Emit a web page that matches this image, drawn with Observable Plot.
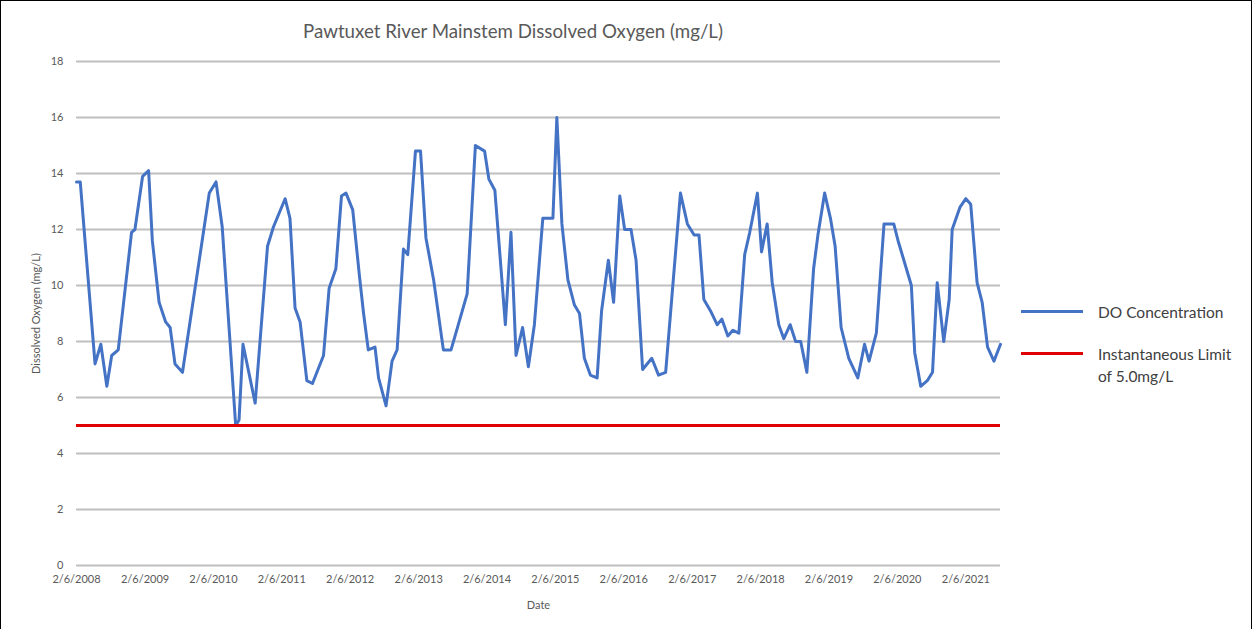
<!DOCTYPE html>
<html>
<head>
<meta charset="utf-8">
<script src="https://cdn.jsdelivr.net/npm/d3@7"></script>
<script src="https://cdn.jsdelivr.net/npm/@observablehq/plot@0.6"></script>
<style>
  html, body { margin: 0; padding: 0; background: #fff; }
  #wrap { position: relative; width: 1257px; height: 629px; overflow: hidden; font-family: Lato, "Open Sans", sans-serif; }
  #frame { position: absolute; left: 0; top: 0; width: 1252px; height: 640px; border: 1px solid #000; box-sizing: border-box; pointer-events: none; }
  #title { position: absolute; left: 0; width: 1026px; top: 20px; text-align: center; font-size: 18.7px; color: #595959; }
  #chart { position: absolute; left: 0; top: 0; }
  .leg { position: absolute; left: 1021px; font-size: 15.5px; color: #404040; line-height: 22px; }
  .leg .sw { position: absolute; left: 0; width: 62px; height: 3px; }
  .leg .tx { position: absolute; left: 77px; white-space: nowrap; }
</style>
</head>
<body>
<div id="wrap">
  <div id="title"></div>
  <div id="chart"></div>
  <div id="legend"></div>
  <div id="frame"></div>
</div>
<script>
const titleText = "Pawtuxet River Mainstem Dissolved Oxygen (mg/L)";
const yLabel = "Dissolved Oxygen (mg/L)";
const xLabel = "Date";
const seriesNames = ["DO Concentration", "Instantaneous Limit of 5.0mg/L"];

const sampleDates = [
  "2008-02-06","2008-02-26","2008-05-15","2008-06-15","2008-07-17","2008-08-12","2008-09-16","2008-11-26","2008-12-14",
  "2009-01-24","2009-02-25","2009-03-17","2009-04-22","2009-05-27","2009-06-20","2009-07-16","2009-08-25",
  "2010-01-15","2010-02-20","2010-03-25","2010-06-05","2010-06-23","2010-07-14","2010-09-17","2010-11-22","2010-12-24",
  "2011-02-24","2011-03-22","2011-04-18","2011-05-15","2011-06-20","2011-07-20","2011-09-17","2011-10-17","2011-11-22","2011-12-22",
  "2012-01-15","2012-02-20","2012-03-26","2012-04-18","2012-05-13","2012-06-18","2012-07-07","2012-08-16","2012-09-17","2012-10-14","2012-11-17","2012-12-10",
  "2013-01-20","2013-02-16","2013-03-17","2013-04-27","2013-06-18","2013-07-29","2013-10-23","2013-12-06",
  "2014-01-24","2014-02-16","2014-03-20","2014-04-16","2014-05-15","2014-06-14","2014-07-11","2014-08-15","2014-09-15","2014-10-17","2014-12-01",
  "2015-01-24","2015-02-14","2015-03-13","2015-04-14","2015-05-19","2015-06-15","2015-07-11","2015-08-12","2015-09-17","2015-10-11","2015-11-16","2015-12-14",
  "2016-01-16","2016-02-11","2016-03-16","2016-04-12","2016-05-17","2016-07-05","2016-08-10","2016-09-17","2016-12-05",
  "2017-01-11","2017-02-16","2017-03-14","2017-04-09","2017-05-14","2017-06-19","2017-07-14","2017-08-15","2017-09-11","2017-10-13","2017-11-13","2017-12-10",
  "2018-01-20","2018-02-11","2018-03-13","2018-04-09","2018-05-14","2018-06-10","2018-07-14","2018-08-12","2018-09-08","2018-10-11","2018-11-16","2018-12-09",
  "2019-01-14","2019-02-14","2019-03-11","2019-04-12","2019-05-23","2019-07-10","2019-08-15","2019-09-08","2019-10-17","2019-11-27",
  "2020-01-18","2020-02-10","2020-04-21","2020-05-09","2020-06-10","2020-07-15","2020-08-12","2020-09-06","2020-10-11","2020-11-09","2020-11-25",
  "2021-01-06","2021-02-06","2021-03-04","2021-04-07","2021-05-04","2021-06-02","2021-07-06","2021-08-10"
];
const doValues = [
  13.7,13.7,7.2,7.9,6.4,7.5,7.7,11.9,12.0,
  13.9,14.1,11.6,9.4,8.7,8.5,7.2,6.9,
  13.3,13.7,12.1,5.0,5.2,7.9,5.8,11.4,12.1,
  13.1,12.4,9.2,8.7,6.6,6.5,7.5,9.9,10.6,13.2,
  13.3,12.7,10.4,9.0,7.7,7.8,6.7,5.7,7.3,7.7,11.3,11.1,
  14.8,14.8,11.7,10.2,7.7,7.7,9.7,15.0,
  14.8,13.8,13.4,11.1,8.6,11.9,7.5,8.5,7.1,8.6,12.4,
  12.4,16.0,12.2,10.2,9.3,9.0,7.4,6.8,6.7,9.1,10.9,9.4,
  13.2,12.0,12.0,10.9,7.0,7.4,6.8,6.9,13.3,
  12.2,11.8,11.8,9.5,9.1,8.6,8.8,8.2,8.4,8.3,11.1,11.9,
  13.3,11.2,12.2,10.1,8.6,8.1,8.6,8.0,8.0,6.9,10.6,11.8,
  13.3,12.4,11.4,8.5,7.4,6.7,7.9,7.3,8.3,12.2,
  12.2,11.6,10.0,7.6,6.4,6.6,6.9,10.1,8.0,9.5,12.0,
  12.8,13.1,12.9,10.1,9.4,7.8,7.3,7.9
];
const limitValue = 5.0;
const yTicks = [0, 2, 4, 6, 8, 10, 12, 14, 16, 18];
const xTickDates = ["2008-02-06","2009-02-06","2010-02-06","2011-02-06","2012-02-06","2013-02-06","2014-02-06",
  "2015-02-06","2016-02-06","2017-02-06","2018-02-06","2019-02-06","2020-02-06","2021-02-06"];
const colors = ["#4472C4", "#E00000"];

const parse = d3.utcParse("%Y-%m-%d");
const data = sampleDates.map((d, i) => ({date: parse(d), value: doValues[i]}));
const ticks = xTickDates.map(parse);

const chart = Plot.plot({
  width: 1257,
  height: 629,
  marginLeft: 76,
  marginRight: 257,
  marginTop: 61,
  marginBottom: 64,
  style: {fontFamily: "Lato, 'Open Sans', sans-serif", fontSize: "11px", color: "#595959", background: "transparent", overflow: "visible"},
  x: {type: "utc", domain: [data[0].date, data[data.length - 1].date]},
  y: {domain: [0, 18]},
  marks: [
    Plot.gridY(yTicks, {stroke: "#bfbfbf", strokeOpacity: 1, strokeWidth: 1.8}),
    Plot.axisY(yTicks, {tickSize: 0, tickPadding: 13, label: yLabel, labelAnchor: "center", labelOffset: 44, labelArrow: "none", fontSize: 11}),
    Plot.axisX(ticks, {tickSize: 0, tickPadding: 10, tickFormat: d3.utcFormat("%-m/%-d/%Y"), label: xLabel, labelAnchor: "center", labelOffset: 43, labelArrow: "none", fontSize: 11}),
    Plot.line(data, {x: "date", y: "value", stroke: colors[0], strokeWidth: 3, strokeLinejoin: "round"}),
    Plot.ruleY([limitValue], {stroke: colors[1], strokeWidth: 3})
  ]
});
document.getElementById("chart").appendChild(chart);
document.getElementById("title").textContent = titleText;

const legend = document.getElementById("legend");
const legendItems = [
  {lines: [seriesNames[0]], color: colors[0], top: 301},
  {lines: ["Instantaneous Limit", "of 5.0mg/L"], color: colors[1], top: 343}
];
legendItems.forEach(item => {
  const el = document.createElement("div");
  el.className = "leg";
  el.style.top = item.top + "px";
  const sw = document.createElement("div");
  sw.className = "sw";
  sw.style.top = "9px";
  sw.style.background = item.color;
  const tx = document.createElement("div");
  tx.className = "tx";
  tx.innerHTML = item.lines.join("<br>");
  el.appendChild(sw);
  el.appendChild(tx);
  legend.appendChild(el);
});
</script>
</body>
</html>
